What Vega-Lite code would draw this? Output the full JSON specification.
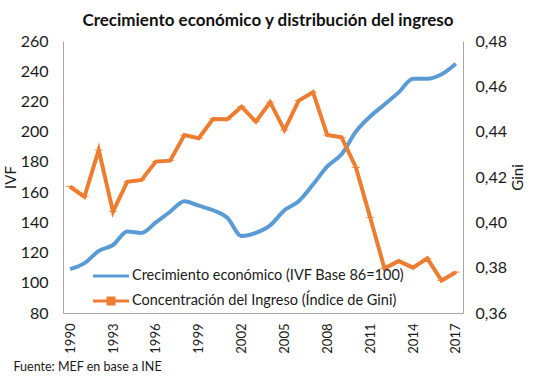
{
  "$schema": "https://vega.github.io/schema/vega-lite/v6.json",
  "width": 400,
  "height": 272,
  "autosize": {"type": "none"},
  "padding": {"left": 63, "top": 41, "right": 76, "bottom": 75},
  "background": "white",
  "config": {
    "font": "Lato",
    "view": {"stroke": null},
    "axis": {"grid": false, "ticks": false, "domainColor": "#a6a6a6", "domainWidth": 1, "labelColor": "#1a1a1a", "titleColor": "#1a1a1a", "labelFont": "Lato", "titleFont": "Lato", "titleFontWeight": "normal"}
  },
  "title": {
    "text": "Crecimiento económico y distribución del ingreso",
    "fontSize": 17,
    "font": "Lato",
    "fontWeight": "bold",
    "color": "#111",
    "anchor": "middle",
    "dx": 5,
    "offset": 3
  },
  "data": {
    "values": [
      {"year": 1990, "serie": "IVF", "value": 109},
      {"year": 1991, "serie": "IVF", "value": 113},
      {"year": 1992, "serie": "IVF", "value": 121},
      {"year": 1993, "serie": "IVF", "value": 125},
      {"year": 1994, "serie": "IVF", "value": 134},
      {"year": 1995, "serie": "IVF", "value": 133},
      {"year": 1996, "serie": "IVF", "value": 140},
      {"year": 1997, "serie": "IVF", "value": 147},
      {"year": 1998, "serie": "IVF", "value": 154},
      {"year": 1999, "serie": "IVF", "value": 151},
      {"year": 2000, "serie": "IVF", "value": 148},
      {"year": 2001, "serie": "IVF", "value": 143},
      {"year": 2002, "serie": "IVF", "value": 131},
      {"year": 2003, "serie": "IVF", "value": 133},
      {"year": 2004, "serie": "IVF", "value": 138},
      {"year": 2005, "serie": "IVF", "value": 148},
      {"year": 2006, "serie": "IVF", "value": 154},
      {"year": 2007, "serie": "IVF", "value": 165},
      {"year": 2008, "serie": "IVF", "value": 177},
      {"year": 2009, "serie": "IVF", "value": 185},
      {"year": 2010, "serie": "IVF", "value": 200},
      {"year": 2011, "serie": "IVF", "value": 210},
      {"year": 2012, "serie": "IVF", "value": 218},
      {"year": 2013, "serie": "IVF", "value": 226},
      {"year": 2014, "serie": "IVF", "value": 235},
      {"year": 2015, "serie": "IVF", "value": 235},
      {"year": 2016, "serie": "IVF", "value": 238},
      {"year": 2017, "serie": "IVF", "value": 245},
      {"year": 1990, "serie": "Gini", "value": 0.4157},
      {"year": 1991, "serie": "Gini", "value": 0.4113},
      {"year": 1992, "serie": "Gini", "value": 0.4319},
      {"year": 1993, "serie": "Gini", "value": 0.4047},
      {"year": 1994, "serie": "Gini", "value": 0.4179},
      {"year": 1995, "serie": "Gini", "value": 0.4187},
      {"year": 1996, "serie": "Gini", "value": 0.4268},
      {"year": 1997, "serie": "Gini", "value": 0.4272},
      {"year": 1998, "serie": "Gini", "value": 0.4385},
      {"year": 1999, "serie": "Gini", "value": 0.4371},
      {"year": 2000, "serie": "Gini", "value": 0.4456},
      {"year": 2001, "serie": "Gini", "value": 0.4455},
      {"year": 2002, "serie": "Gini", "value": 0.451},
      {"year": 2003, "serie": "Gini", "value": 0.4444},
      {"year": 2004, "serie": "Gini", "value": 0.453},
      {"year": 2005, "serie": "Gini", "value": 0.4407},
      {"year": 2006, "serie": "Gini", "value": 0.4537},
      {"year": 2007, "serie": "Gini", "value": 0.4574},
      {"year": 2008, "serie": "Gini", "value": 0.4385},
      {"year": 2009, "serie": "Gini", "value": 0.4375},
      {"year": 2010, "serie": "Gini", "value": 0.4243},
      {"year": 2011, "serie": "Gini", "value": 0.4022},
      {"year": 2012, "serie": "Gini", "value": 0.3797},
      {"year": 2013, "serie": "Gini", "value": 0.3829},
      {"year": 2014, "serie": "Gini", "value": 0.38},
      {"year": 2015, "serie": "Gini", "value": 0.3841},
      {"year": 2016, "serie": "Gini", "value": 0.3743},
      {"year": 2017, "serie": "Gini", "value": 0.378}
    ]
  },
  "encoding": {
    "x": {
      "field": "year",
      "type": "quantitative",
      "scale": {"domain": [1989.5, 2017.5], "nice": false, "zero": false},
      "axis": {
        "values": [1990, 1993, 1996, 1999, 2002, 2005, 2008, 2011, 2014, 2017],
        "format": "d",
        "labelAngle": -90,
        "labelFontSize": 13,
        "labelPadding": 10,
        "title": "Fuente: MEF en base a INE",
        "titleFontSize": 12.5,
        "titleAnchor": "start",
        "titleAlign": "left",
        "titleBaseline": "middle",
        "titleX": -50,
        "titleY": 53
      }
    },
    "color": {
      "field": "serie",
      "type": "nominal",
      "scale": {"domain": ["IVF", "Gini"], "range": ["#5b9bd5", "#ed7d31"]},
      "legend": {
        "orient": "none",
        "legendX": 30,
        "legendY": 217,
        "title": null,
        "labelExpr": "datum.value == 'IVF' ? 'Crecimiento económico (IVF Base 86=100)' : 'Concentración del Ingreso (Índice de Gini)'",
        "labelFontSize": 14.5,
        "labelLimit": 0,
        "labelColor": "#1a1a1a",
        "labelOffset": 3,
        "symbolSize": 1296,
        "symbolStrokeWidth": 0,
        "rowPadding": -12,
        "padding": 0
      }
    }
  },
  "layer": [
    {
      "transform": [{"filter": "datum.serie == 'IVF'"}],
      "mark": {"type": "line", "strokeWidth": 4, "interpolate": "monotone"},
      "encoding": {
        "y": {
          "field": "value",
          "type": "quantitative",
          "scale": {"domain": [80, 260], "nice": false, "zero": false},
          "axis": {
            "values": [80, 100, 120, 140, 160, 180, 200, 220, 240, 260],
            "labelFontSize": 16,
            "labelPadding": 15,
            "title": "IVF",
            "titleFontSize": 15,
            "titlePadding": 2
          }
        }
      }
    },
    {
      "transform": [{"filter": "datum.serie == 'Gini'"}],
      "encoding": {
        "y": {
          "field": "value",
          "type": "quantitative",
          "scale": {"domain": [0.36, 0.48], "nice": false, "zero": false},
          "axis": {
            "orient": "right",
            "values": [0.36, 0.38, 0.4, 0.42, 0.44, 0.46, 0.48],
            "labelExpr": "replace(format(datum.value, '.2f'), '.', ',')",
            "labelFontSize": 16,
            "labelPadding": 12,
            "title": "Gini",
            "titleFontSize": 15,
            "titleAngle": -90,
            "titleBaseline": "top",
            "titlePadding": 4
          }
        }
      },
      "layer": [
        {"mark": {"type": "line", "strokeWidth": 4}},
        {
          "mark": {"type": "point", "filled": true, "opacity": 1, "size": 70},
          "encoding": {
            "shape": {
              "field": "serie",
              "type": "nominal",
              "scale": {
                "domain": ["IVF", "Gini"],
                "range": [
                  "M-1,-0.09L1,-0.09L1,0.09L-1,0.09Z",
                  "M-1,-0.09L-0.25,-0.09L-0.25,-0.25L0.25,-0.25L0.25,-0.09L1,-0.09L1,0.09L0.25,0.09L0.25,0.25L-0.25,0.25L-0.25,0.09L-1,0.09Z"
                ]
              },
              "legend": null
            }
          }
        }
      ]
    }
  ],
  "resolve": {"scale": {"y": "independent"}}
}
